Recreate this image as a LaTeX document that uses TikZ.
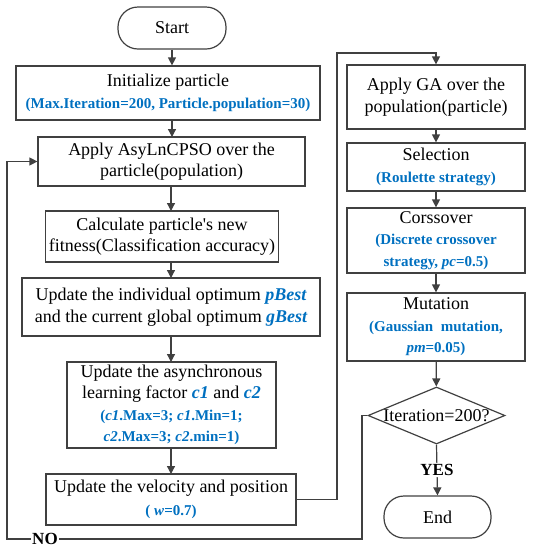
\documentclass[tikz,border=0pt]{standalone}
\usepackage{fontspec}
\setmainfont{Liberation Serif}[Ligatures=TeXOff]
\usetikzlibrary{shapes.geometric,arrows.meta}
\definecolor{linec}{HTML}{404040}
\definecolor{bluec}{HTML}{0070C0}
\newcommand{\bl}[1]{{\color{bluec}\fontsize{15}{20}\selectfont\bfseries #1}}
\newcommand{\bi}[1]{{\color{bluec}\bfseries\itshape #1}}
\begin{document}
\begin{tikzpicture}[x=1pt,y=-1pt,
  box/.style={draw=linec,line width=1.2pt,inner sep=0pt,align=center,font=\fontsize{18}{21.5}\selectfont},
  term/.style={box,rounded corners=20pt},
  arr/.style={draw=linec,line width=1.2pt,-{Triangle[length=8pt,width=8pt]}},
  lbl/.style={fill=white,inner sep=1pt,font=\fontsize{17}{18}\selectfont\bfseries}]
\useasboundingbox (0,0) rectangle (535,550);
\node[term,minimum width=108pt,minimum height=42pt] (start) at (172,28) {Start};
\node[box,minimum width=304pt,minimum height=54pt] (init) at (168,93) {Initialize particle\\[1pt]\bl{(Max.Iteration=200, Particle.population=30)}};
\node[box,minimum width=267pt,minimum height=49pt] (apply) at (171.5,161.5) {Apply AsyLnCPSO over the\\particle(population)};
\node[box,minimum width=233pt,minimum height=51pt] (calc) at (162,236.5) {Calculate particle's new\\fitness(Classification accuracy)};
\node[box,minimum width=298pt,minimum height=58pt] (best) at (171,307) {Update the individual optimum \bi{pBest}\\and the current global optimum \bi{gBest}};
\node[box,minimum width=209pt,minimum height=86pt] (asyn) at (171.5,405) {Update the asynchronous\\learning factor \bi{c1} and \bi{c2}\\\bl{(\textit{c1}.Max=3; \textit{c1}.Min=1;}\\\bl{\textit{c2}.Max=3; \textit{c2}.min=1)}};
\node[box,minimum width=250pt,minimum height=51pt] (vel) at (171,499.5) {Update the velocity and position\\[1pt]\bl{( \textit{w}=0.7)}};
\node[box,minimum width=178pt,minimum height=64pt] (ga) at (436,97) {Apply GA over the\\population(particle)};
\node[box,minimum width=178pt,minimum height=48pt] (sel) at (436,167) {Selection\\[1pt]\bl{(Roulette strategy)}};
\node[box,minimum width=178pt,minimum height=65pt] (cross) at (436,240.5) {Corssover\\\bl{(Discrete crossover}\\\bl{strategy, \textit{pc}=0.5)}};
\node[box,minimum width=178pt,minimum height=68pt] (mut) at (436,327) {Mutation\\\bl{(Gaussian\ \ mutation,}\\\bl{\textit{pm}=0.05)}};
\node[draw=linec,line width=1.2pt,diamond,aspect=2.4,inner sep=0pt,minimum width=137pt,minimum height=57pt] (dia) at (436.5,415.5) {};
\node[font=\fontsize{18}{21.5}\selectfont] (diat) at (436.5,415.5) {Iteration=200?};
\node[term,minimum width=107pt,minimum height=42pt] (end) at (437.5,517) {End};
\coordinate (c1) at (337,53);
\coordinate (nocorner) at (362,539);
\coordinate (leftc) at (7,539);
\draw[arr] (start.south) -- (start.south |- init.north);
\draw[arr] (172,120) -- (172,137);
\draw[arr] (171,186) -- (171,211);
\draw[arr] (171,262) -- (171,278);
\draw[arr] (171,336) -- (171,362);
\draw[arr] (171,448) -- (171,474);
\draw[arr] (vel.east) -| (c1) -| (ga.north);
\draw[arr] (ga) -- (sel);
\draw[arr] (sel) -- (cross);
\draw[arr] (cross) -- (mut);
\draw[arr] (mut) -- (dia);
\draw[arr] (dia.south) -- node[lbl]{YES} (end.north);
\draw[arr] (dia.west) -| (nocorner) -- node[lbl,pos=0.893]{NO} (leftc) |- (apply.west);
\end{tikzpicture}
\end{document}
